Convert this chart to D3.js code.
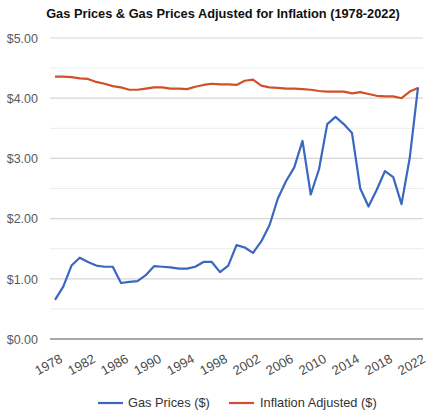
<!DOCTYPE html>
<html><head><meta charset="utf-8">
<script src="https://cdn.jsdelivr.net/npm/d3@7"></script>
<style>body{margin:0;background:#fff}svg{display:block}text{font-family:"Liberation Sans",Arial,sans-serif}</style>
</head><body>
<svg id="c" width="439" height="419"></svg>
<script>
const years = d3.range(1978, 2023);
const gasPrices = [0.65,0.87,1.22,1.35,1.28,1.22,1.20,1.20,0.93,0.95,0.96,1.06,1.21,1.20,1.19,1.17,1.17,1.20,1.28,1.28,1.11,1.22,1.56,1.52,1.43,1.62,1.89,2.33,2.62,2.85,3.29,2.40,2.82,3.57,3.69,3.57,3.42,2.50,2.20,2.48,2.79,2.69,2.24,3.01,4.18];
const inflationAdjusted = [4.36,4.36,4.35,4.33,4.32,4.27,4.24,4.20,4.18,4.14,4.14,4.16,4.18,4.18,4.16,4.16,4.15,4.19,4.22,4.24,4.23,4.23,4.22,4.29,4.31,4.21,4.18,4.17,4.16,4.16,4.15,4.14,4.12,4.11,4.11,4.11,4.08,4.10,4.07,4.04,4.03,4.03,4.00,4.11,4.17];
const yTicks = [0,1,2,3,4,5];
const yMinor = [0.5,1.5,2.5,3.5,4.5];
const xTicks = [1978,1982,1986,1990,1994,1998,2002,2006,2010,2014,2018,2022];
const seriesNames = ["Gas Prices ($)","Inflation Adjusted ($)"];
const colors = ["#3a67bf","#d1502a"];

const svg = d3.select("#c");
const L = 50, R = 423, T = 38, B = 339;
const x = d3.scaleLinear().domain([1978,2022]).range([55,418]);
const y = d3.scaleLinear().domain([0,5]).range([B,T]);

svg.append("text").attr("x",223).attr("y",18).attr("text-anchor","middle")
  .style("font-weight","bold").style("font-size","12.8px").attr("fill","#111")
  .text("Gas Prices & Gas Prices Adjusted for Inflation (1978-2022)");

const g = svg.append("g");
g.selectAll(".minor").data(yMinor).enter().append("line")
  .attr("x1",L).attr("x2",R).attr("y1",d=>y(d)).attr("y2",d=>y(d))
  .attr("stroke","#ececec").attr("stroke-width",1);
g.selectAll(".major").data(yTicks.filter(d=>d>0)).enter().append("line")
  .attr("x1",L).attr("x2",R).attr("y1",d=>y(d)).attr("y2",d=>y(d))
  .attr("stroke","#d6d6d6").attr("stroke-width",1.2);

const yAxis = d3.axisLeft(y).tickValues(yTicks).tickSize(0).tickPadding(0)
  .tickFormat(d=>"$"+d3.format(".2f")(d));
const ya = svg.append("g").attr("transform",`translate(38,0)`).call(yAxis);
ya.select(".domain").remove();
ya.selectAll("text").style("font-size","12.5px").attr("fill","#5a5a5a").attr("dy","0.35em");

const line = d3.line().x((d,i)=>x(years[i])).y(d=>y(d));
[inflationAdjusted, gasPrices].forEach((s,k)=>{
  svg.append("path").datum(s).attr("d",line).attr("fill","none")
    .attr("stroke", k===0?colors[1]:colors[0]).attr("stroke-width",2.2)
    .attr("stroke-linejoin","round");
});

svg.append("line").attr("x1",L).attr("x2",R).attr("y1",y(0)).attr("y2",y(0))
  .attr("stroke","#555").attr("stroke-width",1.2);

const xAxis = d3.axisBottom(x).tickValues(xTicks).tickSize(0).tickFormat(d3.format("d"));
const xa = svg.append("g").attr("transform",`translate(0,${B+9})`).call(xAxis);
xa.select(".domain").remove();
xa.selectAll("text").style("font-size","13px").attr("fill","#4a4a4a")
  .attr("text-anchor","end").attr("dy","0.7em").attr("transform","translate(2,3) rotate(-29)");

const leg = [{x:98,tx:128},{x:229,tx:260}];
seriesNames.forEach((n,i)=>{
  svg.append("line").attr("x1",leg[i].x).attr("x2",leg[i].x+25).attr("y1",403).attr("y2",403)
    .attr("stroke",colors[i]).attr("stroke-width",2.2);
  svg.append("text").attr("x",leg[i].tx).attr("y",403).attr("dy","0.35em")
    .style("font-size","12.8px").attr("fill","#333").text(n);
});
</script>
</body></html>
